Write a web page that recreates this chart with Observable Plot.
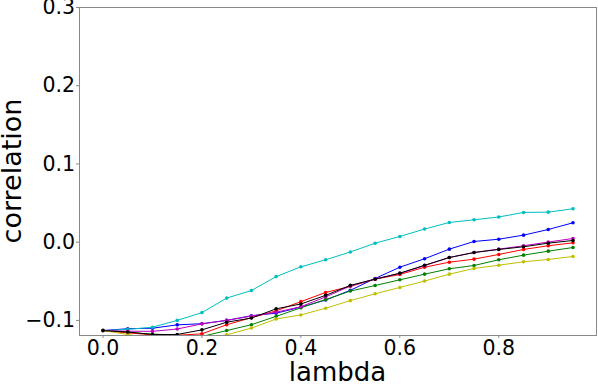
<!DOCTYPE html>
<html>
<head>
<meta charset="utf-8">
<script src="https://cdn.jsdelivr.net/npm/d3@7"></script>
<script src="https://cdn.jsdelivr.net/npm/@observablehq/plot@0.6"></script>
<style>
  html, body { margin: 0; padding: 0; background: #fff; }
  #chart svg { display: block; font-family: "DejaVu Sans", sans-serif; }
</style>
</head>
<body>
<div id="chart"></div>
<script>
const lambda = [0, 0.05, 0.1, 0.15, 0.2, 0.25, 0.3, 0.35, 0.4, 0.45, 0.5, 0.55, 0.6, 0.65, 0.7, 0.75, 0.8, 0.85, 0.9, 0.95];

const blue    = [-0.113, -0.1106, -0.1100, -0.1057, -0.1042, -0.1000, -0.0940, -0.0908, -0.0830, -0.0740, -0.0615, -0.0464, -0.0320, -0.0212, -0.0089, 0.0009, 0.0038, 0.0090, 0.0162, 0.0248];
const green   = [-0.113, -0.1155, -0.1175, -0.1190, -0.1205, -0.1130, -0.1055, -0.0948, -0.0839, -0.0733, -0.0625, -0.0554, -0.0481, -0.0409, -0.0340, -0.0298, -0.0225, -0.0166, -0.0115, -0.0068];
const red     = [-0.113, -0.1158, -0.1185, -0.1190, -0.1172, -0.1055, -0.0965, -0.0878, -0.0760, -0.0643, -0.0565, -0.0473, -0.0413, -0.0320, -0.0256, -0.0217, -0.0157, -0.0093, -0.0046, -0.0008];
const cyan    = [-0.113, -0.1115, -0.1087, -0.1000, -0.0900, -0.0715, -0.0618, -0.0440, -0.0315, -0.0225, -0.0125, -0.0013, 0.0073, 0.0168, 0.0252, 0.0286, 0.0322, 0.0380, 0.0384, 0.0427];
const magenta = [-0.113, -0.1138, -0.1140, -0.1110, -0.1044, -0.1000, -0.0945, -0.0895, -0.0825, -0.0700, -0.0560, -0.0470, -0.0400, -0.0300, -0.0196, -0.0132, -0.0089, -0.0046, 0.0002, 0.0047];
const yellow  = [-0.113, -0.1180, -0.1230, -0.1230, -0.1230, -0.1185, -0.1098, -0.0982, -0.0930, -0.0844, -0.0747, -0.0660, -0.0579, -0.0497, -0.0409, -0.0336, -0.0294, -0.0251, -0.0221, -0.0183];
const black   = [-0.113, -0.1148, -0.1180, -0.1180, -0.1121, -0.1023, -0.0970, -0.0852, -0.0790, -0.0680, -0.0552, -0.0473, -0.0396, -0.0295, -0.0196, -0.0132, -0.0093, -0.0059, -0.0013, 0.0022];

const seriesNames = ["b", "g", "r", "c", "m", "y", "k"];
const seriesValues = [blue, green, red, cyan, magenta, yellow, black];
const seriesColors = ["#0000ff", "#008000", "#ff0000", "#00bfbf", "#bf00bf", "#bfbf00", "#000000"];

const xTicks = [0, 0.2, 0.4, 0.6, 0.8];
const yTicks = [-0.1, 0.0, 0.1, 0.2, 0.3];
const xLabel = "lambda";
const yLabel = "correlation";

const rows = [];
seriesNames.forEach((name, si) => {
  seriesValues[si].forEach((v, i) => rows.push({series: name, lambda: lambda[i], value: v}));
});

const fmt = d => (d < 0 ? "\u2212" : "") + Math.abs(d).toFixed(1);

const marks = [];
seriesNames.forEach((name, si) => {
  const data = rows.filter(r => r.series === name);
  marks.push(Plot.line(data, {x: "lambda", y: "value", stroke: seriesColors[si], strokeWidth: 1, clip: true}));
  marks.push(Plot.dot(data, {x: "lambda", y: "value", fill: seriesColors[si], r: 1.8, clip: true}));
});

const chart = Plot.plot({
  width: 598,
  height: 386,
  marginLeft: 79,
  marginRight: 2,
  marginTop: 7,
  marginBottom: 51,
  style: {fontFamily: "DejaVu Sans", background: "#fff", color: "#000"},
  x: {domain: [-0.0475, 0.9975]},
  y: {domain: [-0.1193, 0.3]},
  marks: [
    ...marks,
    Plot.frame({stroke: "#888", strokeWidth: 1}),
    Plot.axisX(xTicks, {tickSize: 3, tickPadding: 2, fontSize: 20.5, tickFormat: fmt, label: null, stroke: "#888", fill: "#000"}),
    Plot.axisY(yTicks, {tickSize: 3, tickPadding: 1.5, fontSize: 20.5, tickFormat: fmt, label: null, stroke: "#888", fill: "#000"})
  ]
});

const svg = d3.select(chart);
svg.append("text")
  .attr("x", 337.5).attr("y", 381)
  .attr("text-anchor", "middle")
  .attr("font-family", "DejaVu Sans")
  .attr("font-size", 26)
  .attr("fill", "#000")
  .text(xLabel);
svg.append("text")
  .attr("transform", "translate(20.5,171) rotate(-90)")
  .attr("text-anchor", "middle")
  .attr("font-family", "DejaVu Sans")
  .attr("font-size", 27)
  .attr("fill", "#000")
  .text(yLabel);

document.getElementById("chart").appendChild(chart);
</script>
</body>
</html>
